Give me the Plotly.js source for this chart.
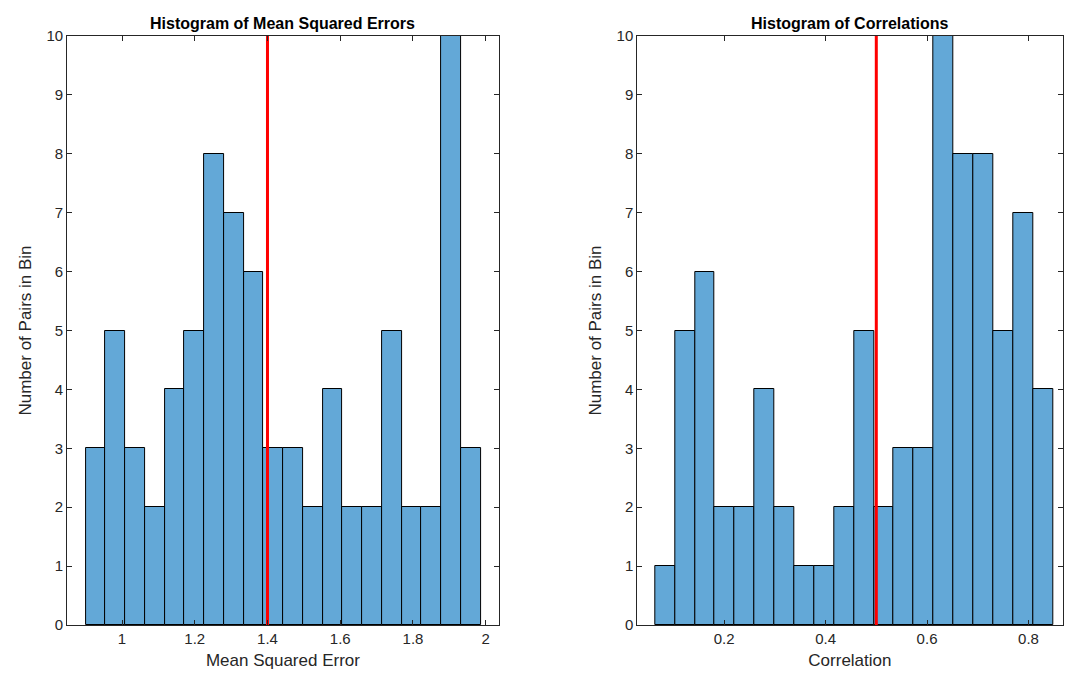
<!DOCTYPE html>
<html>
<head>
<meta charset="utf-8">
<script src="https://cdn.plot.ly/plotly-3.0.1.min.js"></script>
<style>html,body{margin:0;padding:0;background:#fff}</style>
</head>
<body>
<div id="chart" style="width:1082px;height:693px"></div>
<script>
// counts per bin
const mseCounts = [3, 5, 3, 2, 4, 5, 8, 7, 6, 3, 3, 2, 4, 2, 2, 5, 2, 2, 10, 3];
const mseStart = 0.9;
const mseWidth = 0.0543;
const mseMarker = 1.4;

const corrCounts = [1, 5, 6, 2, 2, 4, 2, 1, 1, 2, 5, 2, 3, 3, 10, 8, 8, 5, 7, 4];
const corrStart = 0.064;
const corrWidth = 0.0392;
const corrMarker = 0.5;

const barColor = '#63a8d7';
const font = 'Liberation Sans, Arial, sans-serif';

function centers(n, start, w) {
    return Array.from({length: n}, (_, i) => start + w * (i + 0.5));
}

const data = [
    {type: 'bar', x: centers(mseCounts.length, mseStart, mseWidth), y: mseCounts,
     width: mseWidth, marker: {color: barColor, line: {color: '#000', width: 1}},
     xaxis: 'x', yaxis: 'y', hoverinfo: 'x+y'},
    {mode: 'lines', x: [mseMarker, mseMarker], y: [0, 10], line: {color: '#ff0000', width: 3},
     xaxis: 'x', yaxis: 'y'},
    {type: 'bar', x: centers(corrCounts.length, corrStart, corrWidth), y: corrCounts,
     width: corrWidth, marker: {color: barColor, line: {color: '#000', width: 1}},
     xaxis: 'x2', yaxis: 'y2'},
    {mode: 'lines', x: [corrMarker, corrMarker], y: [0, 10], line: {color: '#ff0000', width: 3},
     xaxis: 'x2', yaxis: 'y2'}
];

const axBase = {
    showgrid: false, zeroline: false, showline: true, mirror: 'ticks',
    linecolor: '#262626', linewidth: 1, ticks: 'inside', ticklen: 5,
    tickcolor: '#262626', tickfont: {size: 15, color: '#262626', family: font}
};
const yBase = Object.assign({}, axBase, {
    range: [0, 10], dtick: 1,
    title: {text: 'Number of Pairs in Bin', font: {size: 17, color: '#262626', family: font}, standoff: 10}
});

const layout = {
    width: 1082, height: 693,
    margin: {l: 0, r: 0, t: 36, b: 68},
    showlegend: false, bargap: 0,
    plot_bgcolor: '#fff', paper_bgcolor: '#fff',
    font: {family: font},
    xaxis: Object.assign({}, axBase, {domain: [0.062, 0.461], range: [0.849, 2.036], dtick: 0.2,
        title: {text: 'Mean Squared Error', font: {size: 17, color: '#262626', family: font}, standoff: 8}}),
    yaxis: Object.assign({}, yBase, {anchor: 'x'}),
    xaxis2: Object.assign({}, axBase, {domain: [0.589, 0.982], range: [0.029, 0.867], dtick: 0.2,
        anchor: 'y2', title: {text: 'Correlation', font: {size: 17, color: '#262626', family: font}, standoff: 8}}),
    yaxis2: Object.assign({}, yBase, {anchor: 'x2'}),
    annotations: [
        {text: '<b>Histogram of Mean Squared Errors</b>', xref: 'paper', yref: 'paper',
         x: 0.2615, xanchor: 'center', y: 1, yanchor: 'bottom', yshift: 2, showarrow: false,
         font: {size: 16, color: '#000', family: font}},
        {text: '<b>Histogram of Correlations</b>', xref: 'paper', yref: 'paper',
         x: 0.7855, xanchor: 'center', y: 1, yanchor: 'bottom', yshift: 2, showarrow: false,
         font: {size: 16, color: '#000', family: font}}
    ]
};

Plotly.newPlot('chart', data, layout, {displayModeBar: false});
</script>
</body>
</html>
